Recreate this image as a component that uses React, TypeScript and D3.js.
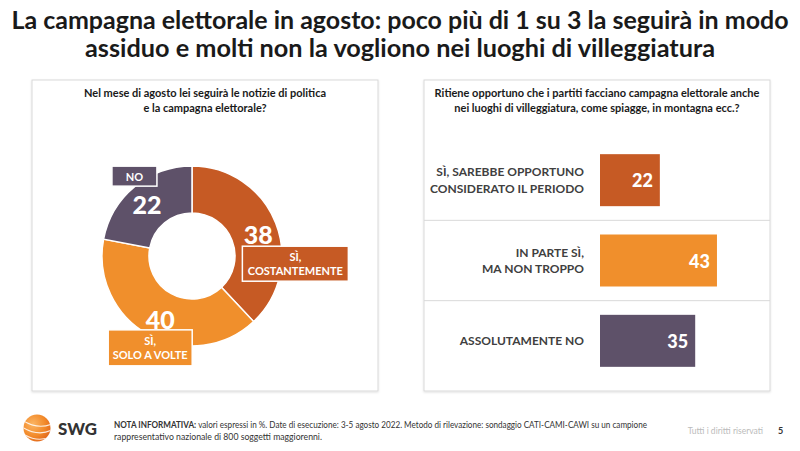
import React from "react";
import * as d3 from "d3";

const TITLE_LINES = [
  "La campagna elettorale in agosto: poco più di 1 su 3 la seguirà in modo",
  "assiduo e molti non la vogliono nei luoghi di villeggiatura",
];

const DONUT_QUESTION = [
  "Nel mese di agosto lei seguirà le notizie di politica",
  "e la campagna elettorale?",
];
const donutCategories = [["SÌ,", "COSTANTEMENTE"], ["SÌ,", "SOLO A VOLTE"], ["NO"]];
const donutValues = [38, 40, 22];
const donutColors = ["#C65A24", "#F08F2C", "#5E5169"];

const BAR_QUESTION = [
  "Ritiene opportuno che i partiti facciano campagna elettorale anche",
  "nei luoghi di villeggiatura, come spiagge, in montagna ecc.?",
];
const barCategories = [
  ["SÌ, SAREBBE OPPORTUNO", "CONSIDERATO IL PERIODO"],
  ["IN PARTE SÌ,", "MA NON TROPPO"],
  ["ASSOLUTAMENTE NO"],
];
const barValues = [22, 43, 35];
const barColors = ["#C65A24", "#F08F2C", "#5E5169"];

const NOTE_LINES = [
  "valori espressi in %. Date di esecuzione: 3-5 agosto 2022. Metodo di rilevazione: sondaggio CATI-CAMI-CAWI su un campione",
  "rappresentativo nazionale di 800 soggetti maggiorenni.",
];

const FONT = "Lato, 'Open Sans', sans-serif";

export default function App() {
  // Donut
  const cx = 192, cy = 256, R = 90, r = 43;
  const pie = d3.pie<number>().sort(null).startAngle(0).endAngle(2 * Math.PI);
  const arcs = pie(donutValues);
  const arcGen = d3.arc<d3.PieArcDatum<number>>().innerRadius(r).outerRadius(R);
  const labelArc = d3.arc<d3.PieArcDatum<number>>().innerRadius(66).outerRadius(66);
  // label box layout relative to value label
  const boxes = [
    { left: -16, dy: 30, w: 106, h: 35 },
    { left: -52, dy: 29, w: 84, h: 36 },
    { left: -35, dy: -28, w: 45, h: 20 },
  ];
  const valueNudge = [[5, 2], [0, 5], [-3, -1]];

  // Bars
  const x = d3.scaleLinear().domain([0, 100]).range([0, 272]);
  const y = d3.scaleBand<number>().domain(d3.range(barValues.length)).range([140, 381]);
  const barX0 = 600;
  const barH = 52;

  return (
    <svg width={800} height={451} style={{ position: "absolute", left: 0, top: 0, background: "#fff" }} fontFamily={FONT}>
      <defs>
        <radialGradient id="logoGrad" cx="35%" cy="35%" r="75%">
          <stop offset="0%" stopColor="#FBB563" />
          <stop offset="60%" stopColor="#F28A2A" />
          <stop offset="100%" stopColor="#E0641A" />
        </radialGradient>
        <filter id="shadow" x="-5%" y="-5%" width="110%" height="110%">
          <feDropShadow dx="0" dy="1" stdDeviation="1.2" floodColor="#000" floodOpacity="0.12" />
        </filter>
        <clipPath id="logoClip">
          <circle cx={37} cy={428} r={13.5} />
        </clipPath>
      </defs>
      <rect width={800} height={451} fill="#fff" />

      {/* Title */}
      {TITLE_LINES.map((t, i) => (
        <text key={i} x={400} y={29 + i * 28} textAnchor="middle" fontSize={24.5} fontWeight={700} fill="#1a1a1a"
          textLength={i === 0 ? 777 : 630} lengthAdjust="spacingAndGlyphs">
          {t}
        </text>
      ))}

      {/* Panels */}
      <rect x={32} y={80} width={346} height={311} fill="#fff" stroke="#d9d9d9" strokeWidth={1} filter="url(#shadow)" />
      <rect x={424} y={80} width={346} height={311} fill="#fff" stroke="#d9d9d9" strokeWidth={1} filter="url(#shadow)" />

      {/* Donut question */}
      {DONUT_QUESTION.map((t, i) => (
        <text key={i} x={205} y={97 + i * 15} textAnchor="middle" fontSize={11} fontWeight={700} fill="#1a1a1a">
          {t}
        </text>
      ))}

      {/* Donut */}
      <g transform={`translate(${cx},${cy})`}>
        {arcs.map((a, i) => (
          <path key={i} d={arcGen(a) || ""} fill={donutColors[i]} stroke="#fff" strokeWidth={1.5} />
        ))}
      </g>
      {arcs.map((a, i) => {
        const [lx, ly] = labelArc.centroid(a);
        const vx = cx + lx + valueNudge[i][0];
        const vy = cy + ly + valueNudge[i][1];
        const b = boxes[i];
        const lines = donutCategories[i];
        const by = vy + b.dy - b.h / 2;
        const boxLeft = vx + b.left;
        return (
          <g key={i}>
            <text x={vx} y={vy} textAnchor="middle" dominantBaseline="central" fontSize={25} fontWeight={900} fill="#fff">
              {donutValues[i]}
            </text>
            <rect x={boxLeft} y={by} width={b.w} height={b.h} fill={donutColors[i]} stroke="#fff" strokeWidth={1.5} />
            {lines.map((l, j) => (
              <text key={j} x={boxLeft + b.w / 2} y={by + b.h / 2 + (j - (lines.length - 1) / 2) * 14}
                textAnchor="middle" dominantBaseline="central" fontSize={11} fontWeight={700} fill="#fff">
                {l}
              </text>
            ))}
          </g>
        );
      })}

      {/* Bar question */}
      {BAR_QUESTION.map((t, i) => (
        <text key={i} x={597} y={97 + i * 15} textAnchor="middle" fontSize={11} fontWeight={700} fill="#1a1a1a">
          {t}
        </text>
      ))}

      {/* Separators */}
      {d3.range(1, barValues.length).map((i) => (
        <line key={i} x1={424} x2={770} y1={(y(i) as number)} y2={(y(i) as number)} stroke="#d9d9d9" strokeWidth={1} />
      ))}

      {/* Bars */}
      {barValues.map((v, i) => {
        const yc = (y(i) as number) + y.bandwidth() / 2;
        const lines = barCategories[i];
        return (
          <g key={i}>
            <rect x={barX0} y={yc - barH / 2} width={x(v)} height={barH} fill={barColors[i]} />
            <text x={barX0 + x(v) - 7} y={yc} textAnchor="end" dominantBaseline="central" fontSize={18} fontWeight={900} fill="#fff">
              {v}
            </text>
            {lines.map((l, j) => (
              <text key={j} x={584} y={yc + (j - (lines.length - 1) / 2) * 16.5} textAnchor="end" dominantBaseline="central"
                fontSize={12} fontWeight={700} fill="#404040">
                {l}
              </text>
            ))}
          </g>
        );
      })}

      {/* Footer */}
      <g>
        <circle cx={37} cy={428} r={13.5} fill="url(#logoGrad)" />
        <g clipPath="url(#logoClip)" fill="none" stroke="#fff" strokeWidth={1.1} opacity={0.85}>
          <path d="M22,420 Q37,430 52,424" />
          <path d="M22,427 Q38,437 52,430" />
          <path d="M25,435 Q39,443 52,436" />
        </g>
        <text x={58} y={435} fontSize={16} fontWeight={900} fill="#333" textLength={39} lengthAdjust="spacingAndGlyphs">SWG</text>
      </g>
      <text x={114} y={428} fontSize={8.5} fill="#333" textLength={533} lengthAdjust="spacingAndGlyphs">
        <tspan fontWeight={700}>NOTA INFORMATIVA: </tspan>
        <tspan>{NOTE_LINES[0]}</tspan>
      </text>
      <text x={114} y={440} fontSize={8.5} fill="#333" textLength={208} lengthAdjust="spacingAndGlyphs">{NOTE_LINES[1]}</text>
      <text x={763} y={434} textAnchor="end" fontSize={8.5} fill="#bbb">Tutti i diritti riservati</text>
      <text x={778} y={434} fontSize={9} fontWeight={700} fill="#333">5</text>
    </svg>
  );
}
